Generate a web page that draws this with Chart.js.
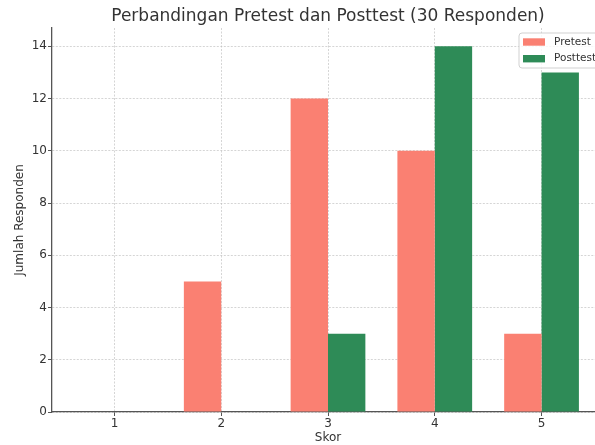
<!DOCTYPE html>
<html>
<head>
<meta charset="utf-8">
<script src="https://cdn.jsdelivr.net/npm/chart.js@4.4.0/dist/chart.umd.min.js"></script>
<style>
  html, body { margin: 0; padding: 0; background: #fff; overflow: hidden; width: 595px; height: 445px; }
  canvas { display: block; }
</style>
</head>
<body>
<canvas id="c" width="656" height="445"></canvas>
<script>
const categories = [1, 2, 3, 4, 5];
const pretest = [0, 5, 12, 10, 3];
const posttest = [0, 0, 3, 14, 13];
const yTickValues = [0, 2, 4, 6, 8, 10, 12, 14];
const seriesNames = ['Pretest', 'Posttest'];
const titleText = 'Perbandingan Pretest dan Posttest (30 Responden)';
const xLabel = 'Skor';
const yLabel = 'Jumlah Responden';

const FONT = "'DejaVu Sans', sans-serif";
const TEXT = '#333333';
const AXIS = '#555555';
const GRID = 'rgba(185,185,185,0.75)';

const legendPlugin = {
  id: 'insideLegend',
  afterDraw(chart) {
    const ctx = chart.ctx;
    const x0 = 519, y0 = 33;
    const fs = 10.5;
    ctx.save();
    ctx.font = fs + 'px ' + FONT;
    const items = chart.data.datasets.map(d => ({ label: d.label, color: d.backgroundColor }));
    let tw = 0;
    items.forEach(it => { tw = Math.max(tw, ctx.measureText(it.label).width); });
    const w = 4 + 22 + 9 + tw + 6;
    const h = 35;
    const r = 3;
    ctx.fillStyle = 'rgba(255,255,255,0.8)';
    ctx.strokeStyle = 'rgba(204,204,204,0.9)';
    ctx.lineWidth = 1;
    ctx.beginPath();
    ctx.moveTo(x0 + r, y0);
    ctx.lineTo(x0 + w - r, y0);
    ctx.arcTo(x0 + w, y0, x0 + w, y0 + r, r);
    ctx.lineTo(x0 + w, y0 + h - r);
    ctx.arcTo(x0 + w, y0 + h, x0 + w - r, y0 + h, r);
    ctx.lineTo(x0 + r, y0 + h);
    ctx.arcTo(x0, y0 + h, x0, y0 + h - r, r);
    ctx.lineTo(x0, y0 + r);
    ctx.arcTo(x0, y0, x0 + r, y0, r);
    ctx.closePath();
    ctx.fill();
    ctx.stroke();
    items.forEach((it, i) => {
      const cy = y0 + 9 + i * 16.7;
      ctx.fillStyle = it.color;
      ctx.fillRect(x0 + 4, cy - 3.7, 22, 7.4);
      ctx.fillStyle = TEXT;
      ctx.textBaseline = 'middle';
      ctx.textAlign = 'left';
      ctx.fillText(it.label, x0 + 35, cy);
    });
    ctx.restore();
  }
};

const gridOpts = {
  color: GRID,
  lineWidth: 0.8,
  offset: false,
  drawTicks: true,
  tickLength: 4,
  tickColor: AXIS,
  tickWidth: 1,
  tickBorderDash: []
};
const borderOpts = { display: true, color: AXIS, width: 1.3, dash: [2, 1.5] };

new Chart(document.getElementById('c'), {
  type: 'bar',
  data: {
    datasets: [
      {
        label: seriesNames[0],
        data: categories.map((c, i) => ({ x: c, y: pretest[i] })),
        backgroundColor: '#FA8072',
        borderWidth: 0,
        categoryPercentage: 0.7,
        barPercentage: 1.0
      },
      {
        label: seriesNames[1],
        data: categories.map((c, i) => ({ x: c, y: posttest[i] })),
        backgroundColor: '#2E8B57',
        borderWidth: 0,
        categoryPercentage: 0.7,
        barPercentage: 1.0
      }
    ]
  },
  options: {
    responsive: false,
    animation: false,
    devicePixelRatio: 1,
    layout: { padding: 0 },
    plugins: {
      legend: { display: false },
      tooltip: { enabled: false },
      title: {
        display: true,
        text: titleText,
        color: TEXT,
        font: { family: FONT, size: 17, weight: 'normal' },
        padding: { top: 6.5, bottom: 1.1 }
      }
    },
    scales: {
      x: {
        type: 'linear',
        min: 0.415,
        max: 5.585,
        offset: false,
        afterBuildTicks: s => { s.ticks = categories.map(v => ({ value: v })); },
        afterFit: s => { s.height = 33; },
        ticks: {
          color: TEXT,
          font: { family: FONT, size: 12 },
          padding: 1,
          maxRotation: 0,
          autoSkip: false,
          callback: v => String(v)
        },
        grid: gridOpts,
        border: borderOpts,
        title: {
          display: true,
          text: xLabel,
          color: TEXT,
          font: { family: FONT, size: 12 },
          padding: { top: 0, bottom: 0 }
        }
      },
      y: {
        min: 0,
        max: 14.7,
        afterBuildTicks: s => { s.ticks = yTickValues.map(v => ({ value: v })); },
        afterFit: s => { s.width = 52; },
        ticks: {
          color: TEXT,
          font: { family: FONT, size: 12 },
          padding: 1,
          callback: v => String(v)
        },
        grid: gridOpts,
        border: borderOpts,
        title: {
          display: true,
          text: yLabel,
          color: TEXT,
          font: { family: FONT, size: 12 },
          padding: { top: 13, bottom: 0 }
        }
      },
      spacer: {
        type: 'linear',
        position: 'right',
        display: true,
        min: 0,
        max: 1,
        afterFit: s => { s.width = 52; },
        ticks: { display: false },
        grid: { display: false, drawTicks: false },
        border: { display: false },
        title: { display: false }
      }
    }
  },
  plugins: [legendPlugin]
});
</script>
</body>
</html>
